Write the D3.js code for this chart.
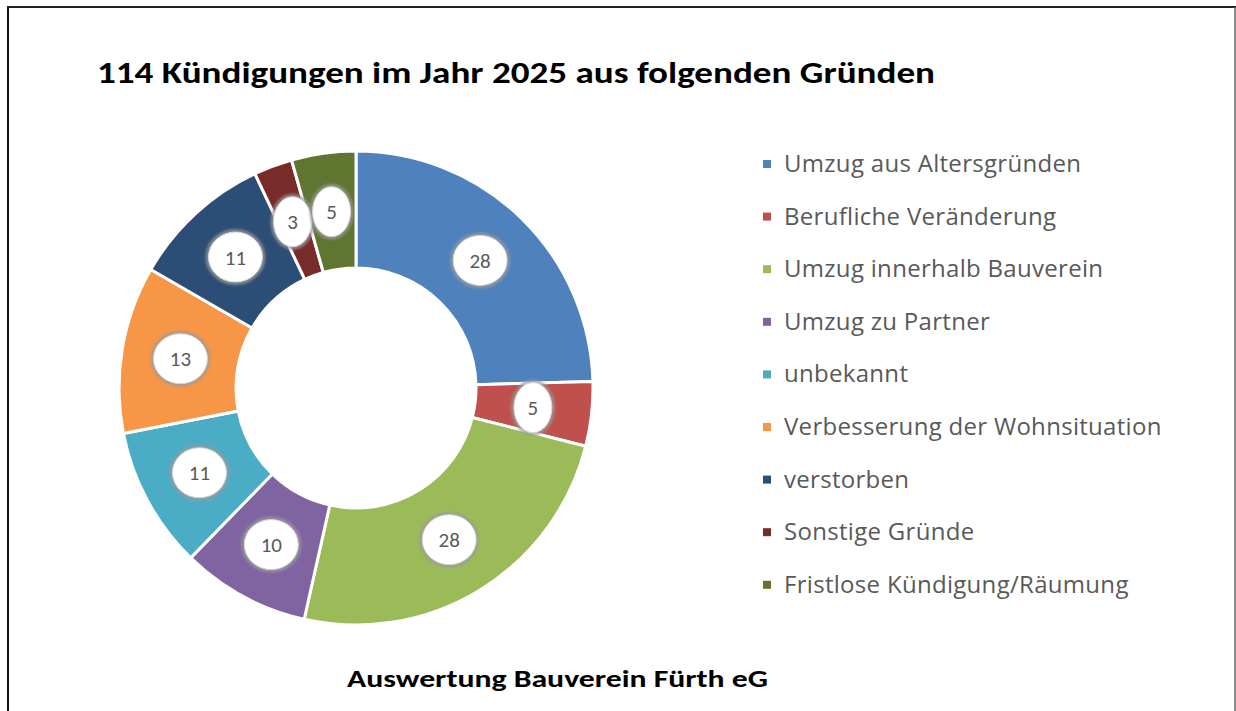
<!DOCTYPE html>
<html>
  <head>
	<meta charset="utf-8">
	<title>Kündigungen 2025</title>
	<style>
	  body { margin: 0; background: #fff; }
	  svg { display: block; }
	  text { font-family: Carlito, Lato, "Open Sans", sans-serif; }
	</style>
  </head>
  <body>
	<div id="chart"></div>
	<script src="https://d3js.org/d3.v7.min.js"></script>
	<script>
	  (function(d3) {
		'use strict';

		var title = '114 Kündigungen im Jahr 2025 aus folgenden Gründen';
		var footer = 'Auswertung Bauverein Fürth eG';

		var reasons = [
		  'Umzug aus Altersgründen',
		  'Berufliche Veränderung',
		  'Umzug innerhalb Bauverein',
		  'Umzug zu Partner',
		  'unbekannt',
		  'Verbesserung der Wohnsituation',
		  'verstorben',
		  'Sonstige Gründe',
		  'Fristlose Kündigung/Räumung'
		];
		var counts = [28, 5, 28, 10, 11, 13, 11, 3, 5];
		var colors = ['#4f81bd', '#c0504d', '#9bbb59', '#8064a2', '#4bacc6',
					  '#f79646', '#2c4d75', '#772c2a', '#5f7530'];

		var width = 1236;
		var height = 711;
		var cx = 356, cy = 388;
		var outerR = 237, innerR = 120, labelR = 178;

		var dataset = reasons.map(function(r, i) {
		  return { label: r, count: counts[i] };
		});

		var color = d3.scaleOrdinal().domain(reasons).range(colors);

		var svg = d3.select('#chart')
		  .append('svg')
		  .attr('width', width)
		  .attr('height', height);

		// frame
		svg.append('line').attr('x1', 8).attr('x2', 8).attr('y1', 6).attr('y2', height)
		  .attr('stroke', '#111').attr('stroke-width', 2);
		svg.append('line').attr('x1', 7).attr('x2', width).attr('y1', 7).attr('y2', 7)
		  .attr('stroke', '#222').attr('stroke-width', 2);
		svg.append('line').attr('x1', 1235).attr('x2', 1235).attr('y1', 7).attr('y2', height)
		  .attr('stroke', '#666').attr('stroke-width', 1.5);

		var defs = svg.append('defs');
		var f = defs.append('filter').attr('id', 'glow')
		  .attr('x', '-30%').attr('y', '-30%').attr('width', '160%').attr('height', '160%');
		f.append('feGaussianBlur').attr('stdDeviation', 1.6);

		svg.append('text')
		  .attr('x', 97).attr('y', 83)
		  .attr('font-size', 30).attr('font-weight', 'bold')
		  .attr('fill', '#000')
		  .attr('textLength', 838).attr('lengthAdjust', 'spacingAndGlyphs')
		  .text(title);

		svg.append('text')
		  .attr('x', 347).attr('y', 687)
		  .attr('font-size', 24).attr('font-weight', 'bold')
		  .attr('fill', '#000')
		  .attr('textLength', 421).attr('lengthAdjust', 'spacingAndGlyphs')
		  .text(footer);

		var pie = d3.pie()
		  .value(function(d) { return d.count; })
		  .sort(null);

		var arc = d3.arc()
		  .innerRadius(innerR)
		  .outerRadius(outerR);

		var g = svg.append('g')
		  .attr('transform', 'translate(' + cx + ',' + cy + ')');

		var arcs = pie(dataset);

		g.selectAll('path')
		  .data(arcs)
		  .enter()
		  .append('path')
		  .attr('d', arc)
		  .attr('fill', function(d) { return color(d.data.label); })
		  .attr('stroke', '#fff')
		  .attr('stroke-width', 3);

		// label angles, pushed apart where they collide (like excel does)
		var minGap = 13 * Math.PI / 180;
		var angles = arcs.map(function(d) { return (d.startAngle + d.endAngle) / 2; });
		for (var i = angles.length - 2; i >= 0; i--) {
		  if (angles[i + 1] - angles[i] < minGap) angles[i] = angles[i + 1] - minGap;
		}

		var labels = g.selectAll('g.lbl')
		  .data(arcs)
		  .enter()
		  .append('g')
		  .attr('class', 'lbl')
		  .attr('transform', function(d, i) {
			var a = angles[i];
			return 'translate(' + (labelR * Math.sin(a)) + ',' + (-labelR * Math.cos(a)) + ')';
		  });

		function rx(d) { return String(d.data.count).length > 1 ? 28 : 20; }

		labels.append('ellipse')
		  .attr('rx', rx).attr('ry', 26)
		  .attr('fill', 'none')
		  .attr('stroke', '#9a9a9a')
		  .attr('stroke-width', 3)
		  .attr('filter', 'url(#glow)');
		labels.append('ellipse')
		  .attr('rx', function(d) { return rx(d) - 1; }).attr('ry', 25)
		  .attr('fill', '#fff')
		  .attr('stroke', '#d6d6d6')
		  .attr('stroke-width', 1);
		labels.append('text')
		  .attr('text-anchor', 'middle')
		  .attr('dy', '0.36em')
		  .attr('font-size', 21)
		  .attr('fill', '#595959')
		  .text(function(d) { return d.data.count; });

		// legend
		var legend = svg.append('g');
		var rows = legend.selectAll('g')
		  .data(reasons)
		  .enter()
		  .append('g')
		  .attr('transform', function(d, i) { return 'translate(763,' + (164 + i * 52.6) + ')'; });
		rows.append('rect')
		  .attr('x', 0).attr('y', -4)
		  .attr('width', 8).attr('height', 8)
		  .attr('fill', function(d) { return color(d); });
		rows.append('text')
		  .attr('x', 21).attr('y', 8)
		  .attr('font-size', 24)
		  .attr('letter-spacing', 0.3)
		  .style('font-family', '"Open Sans", sans-serif')
		  .attr('fill', '#595959')
		  .text(function(d) { return d; });

	  })(window.d3);
	</script>
  </body>
</html>
